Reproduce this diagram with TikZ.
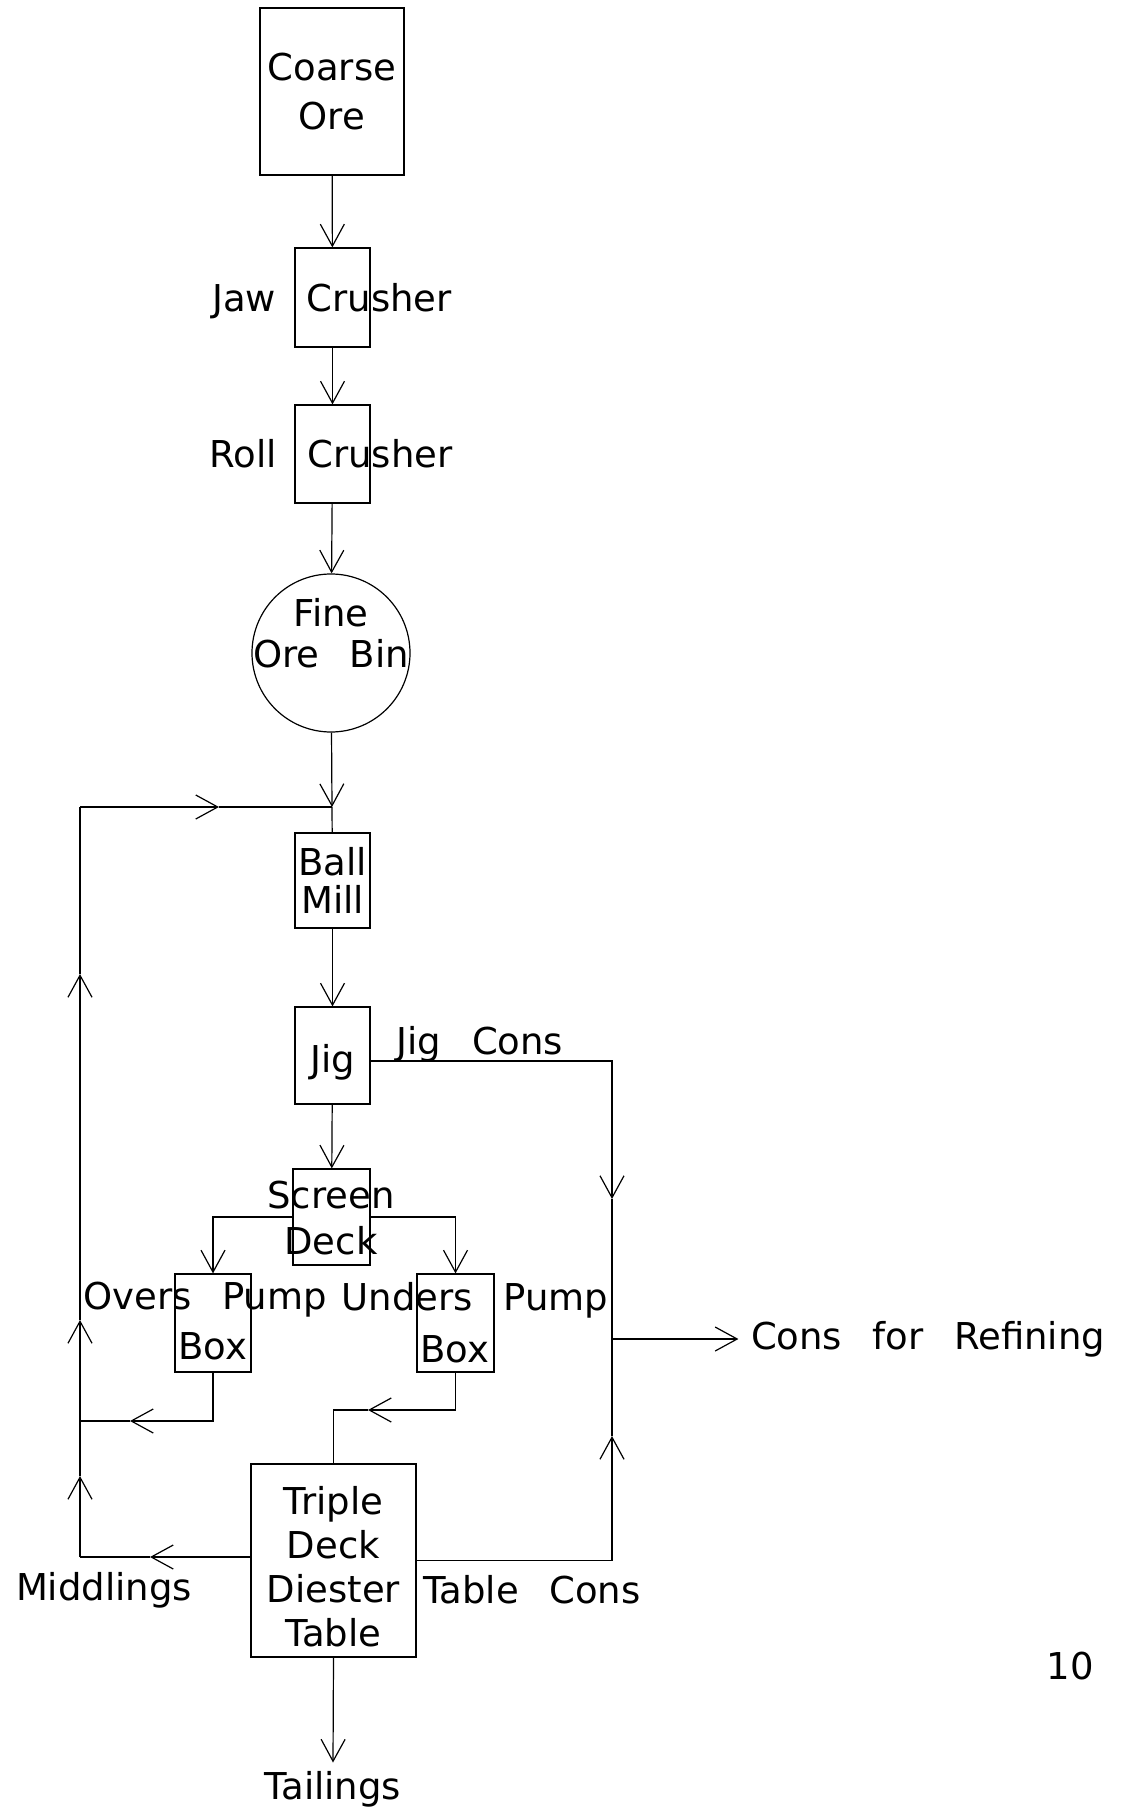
\documentclass[tikz,border=0pt]{standalone}
\usepackage{fontspec}
\setmainfont[WordSpace=2.6]{DejaVu Sans}
\usetikzlibrary{positioning,arrows.meta}

\begin{document}
\begin{tikzpicture}[
  x=0.5pt, y=-0.5pt,
  font=\fontsize{18.5pt}{22pt}\selectfont,
  line width=0.6pt,
  unit/.style={draw, inner sep=0pt, align=center},
  bin/.style={draw, circle, minimum size=79pt, inner sep=0pt},
  lbl/.style={inner sep=0pt, align=center},
  arr/.style={-{Straight Barb[length=11pt, width=12pt]}}
]
\useasboundingbox (0,0) rectangle (1129,1808);
% Main column: crushing
\node[unit, minimum width=72pt, minimum height=83.5pt,
      font=\fontsize{18.5pt}{24.5pt}\selectfont] (ore) at (332,91.5) {Coarse\\Ore};
\node[unit, minimum width=37.5pt, minimum height=49.5pt] (jaw) at (332.5,297.5) {};
\node[lbl] (jawtxt) at (332,301) {Jaw Crusher};
\node[unit, minimum width=37.5pt, minimum height=49pt] (roll) at (332.5,454) {};
\node[lbl] (rolltxt) at (331,454) {Roll Crusher};
\node[bin] (bin) at (331,653) {};
\node[lbl, font=\fontsize{18.5pt}{20.5pt}\selectfont] (bintxt) at (331,633.5) {Fine\\Ore Bin};
\draw[arr] (ore) -- (jaw);
\draw[arr] (jaw) -- (roll);
\draw[arr] (roll) -- (bin);
% Main column: grinding and jigging
\coordinate (join) at (332,807);
\node[unit, minimum width=37.5pt, minimum height=47.5pt,
      font=\fontsize{18.5pt}{19pt}\selectfont] (ball) at (332.5,880.5) {Ball\\Mill};
\node[unit, minimum width=37.5pt, minimum height=48.5pt] (jig) at (332.5,1055.5) {};
\node[lbl] (jigtxt) at (332.5,1062) {Jig};
\node[unit, minimum width=38.5pt, minimum height=48pt] (screen) at (331.5,1217) {};
\node[lbl, font=\fontsize{18.5pt}{23pt}\selectfont] (scrtxt) at (331,1218) {Screen\\Deck};
\draw[arr] (bin) -- (join);
\draw (join) -- (ball);
\draw[arr] (ball) -- (jig);
\draw[arr] (jig) -- (screen);
% Pump boxes
\node[unit, minimum width=38pt, minimum height=49pt] (overs) at (213,1323) {};
\node[lbl] (ovtxt) at (205,1300) {Overs Pump};
\node[lbl] (ovbox) at (213,1346) {Box};
\node[unit, minimum width=38.5pt, minimum height=49pt] (unders) at (455.5,1323) {};
\node[lbl] (untxt) at (475,1300) {Unders Pump};
\node[lbl] (unbox) at (455,1349) {Box};
\draw[arr] (screen.west) -| (overs.north);
\draw[arr] (screen.east) -| (unders.north);
% Table
\node[unit, minimum width=82.5pt, minimum height=96.5pt] (table) at (333.5,1560.5) {};
\node[lbl] (tabtxt) at (333.5,1567) {Triple\\Deck\\Diester\\Table};
\coordinate (unda) at (368,1410);
\draw[arr] (unders.south) |- (unda);
\draw (unda) -| (table.north);
\node[lbl, inner sep=4pt] (tail) at (333,1789) {Tailings};
\draw[arr] (table.south) -- (tail.north);
% Recycle loop (left)
\coordinate (mida) at (150,1557);
\coordinate (lbot) at (80,1557);
\coordinate (lmid1) at (80,1476);
\coordinate (lover) at (80,1421);
\coordinate (lmid2) at (80,1320);
\coordinate (lmid3) at (80,974);
\coordinate (ltop) at (80,807);
\coordinate (ltopa) at (219,807);
\coordinate (ovta) at (130,1421);
\draw[arr] (table.west |- mida) -- (mida);
\draw (mida) -- (lbot);
\draw[arr] (lbot) -- (lmid1);
\draw[arr] (lmid1) -- (lmid2);
\draw[arr] (lmid2) -- (lmid3);
\draw (lmid3) -- (ltop);
\draw[arr] (ltop) -- (ltopa);
\draw (ltopa) -- (join);
\draw[arr] (overs.south) |- (ovta);
\draw (ovta) -- (lover);
\node[lbl] (midd) at (104,1590) {Middlings};
% Concentrates (right)
\node[lbl] (jigcons) at (480,1044) {Jig Cons};
\node[lbl] (tabcons) at (532,1590) {Table Cons};
\node[lbl, inner sep=6pt] (refine) at (928,1339) {Cons for Refining};
\coordinate (rjig) at (612,1199);
\coordinate (rmid) at (612,1339);
\coordinate (rtab) at (612,1436);
\draw[arr] ([yshift=-2.75pt]jig.east) -| (rjig);
\draw (rjig) -- (rmid);
\draw[arr] (table.east) -| (rtab);
\draw (rtab) -- (rmid);
\draw[arr] (rmid) -- (rmid -| refine.west);
\node[lbl] (pgno) at (1070,1666) {10};
\end{tikzpicture}
\end{document}
